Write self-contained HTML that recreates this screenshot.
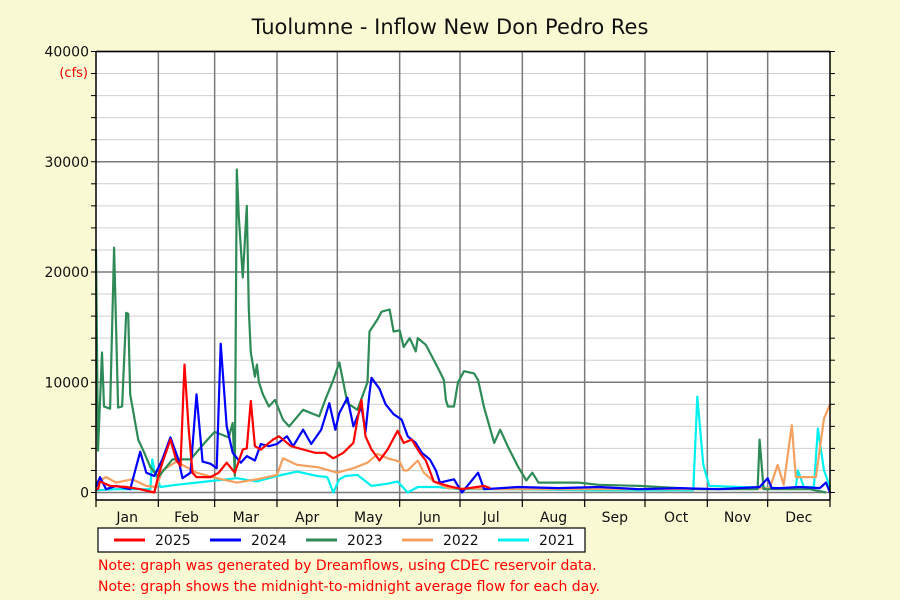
<!DOCTYPE html>
<html><head><meta charset="utf-8"><style>
body{margin:0;background:#f9f9d3;}
svg{display:block;font-family:"DejaVu Sans","Liberation Sans",sans-serif;}
</style></head><body>
<svg id="chart" width="900" height="600" viewBox="0 0 900 600">
<rect x="0" y="0" width="900" height="600" fill="#f9f9d3"/>
<text x="450" y="34" text-anchor="middle" font-size="21" fill="#111">Tuolumne - Inflow New Don Pedro Res</text>
<rect x="96" y="51.5" width="734" height="448.5" fill="#fff"/>
<g id="grid"></g>
<g id="series"></g>
<g id="axes"></g>
<text x="88" y="77" text-anchor="end" font-size="13" fill="#e00">(cfs)</text>
<g>
<rect x="98" y="528" width="487" height="24" fill="#fff" stroke="#000" stroke-width="1.2"/>
<g id="legend"></g>
</g>
<text x="98" y="570" font-size="14" fill="#f00">Note: graph was generated by Dreamflows, using CDEC reservoir data.</text>
<text x="98" y="591" font-size="14" fill="#f00">Note: graph shows the midnight-to-midnight average flow for each day.</text>
</svg>
<script>
const months=["Jan","Feb","Mar","Apr","May","Jun","Jul","Aug","Sep","Oct","Nov","Dec"];
const monthDays=[31,28,31,30,31,30,31,31,30,31,30,31];
const yTicks=[0,10000,20000,30000,40000];
const seriesNames=["2025","2024","2023","2022","2021"];
const seriesColors=["#f00","#00f","#2e8b57","#f4a060","#00f0f0"];
const d2025=[0,1,2,7,15,22,29,31,33,37,40,42,44,46,48,50,57,61,65,69,73,75,77,79,82,88,91,97,103,109,114,118,123,128,130,132,134,137,141,145,150,153,157,161,164,168,175,182,193,196];
const v2025=[300,300,1000,600,500,300,0,1500,2700,4800,2900,2400,11600,6000,1800,1400,1400,1800,2700,1800,3900,4000,8300,4200,3900,4800,5100,4200,3900,3600,3600,3100,3600,4500,6600,8400,5100,3900,2900,3900,5600,4500,4800,3600,2900,1000,600,300,600,400];
const d2024=[0,2,5,10,17,22,25,29,33,37,41,43,47,50,53,57,60,62,65,68,72,75,79,82,86,90,95,98,103,107,112,116,119,121,125,128,132,134,136,137,141,144,148,152,155,159,162,166,169,171,178,182,190,193,210,230,250,270,290,310,330,334,336,340,350,360,363,365];
const v2024=[500,1400,300,600,300,3700,1800,1500,3000,5000,3000,1300,1800,8900,2800,2600,2200,13500,6000,3600,2700,3300,2900,4400,4200,4400,5100,4200,5700,4400,5700,8100,5700,7200,8600,6000,7800,5500,9000,10400,9400,8000,7100,6600,5100,4500,3600,3000,2000,900,1200,0,1800,300,500,400,500,300,400,300,500,1300,400,400,500,400,900,0];
const d2023=[0,1,3,4,7,9,11,13,15,16,17,21,24,27,31,38,47,54,59,66,68,69,70,71,73,75,76,77,79,80,81,83,86,89,93,96,103,111,114,118,121,123,125,130,135,136,140,142,146,148,151,153,156,159,160,164,170,173,174,175,178,180,183,188,190,193,198,201,205,210,214,217,220,240,250,270,280,300,320,329,330,332,340,355,363];
const v2023=[22000,3800,12700,7800,7600,22200,7700,7800,16300,16200,8900,4800,3600,2300,1400,3000,3000,4500,5500,5000,6300,1500,29300,25000,19500,26000,16600,12700,10500,11600,10000,8900,7800,8400,6600,6000,7500,6900,8400,10200,11800,10000,8100,7500,10000,14600,15700,16400,16600,14600,14700,13200,14000,12800,14000,13400,11300,10200,8400,7800,7800,10000,11000,10800,10200,7700,4500,5700,4100,2300,1100,1800,900,900,700,600,500,300,300,300,4800,300,300,300,0];
const d2022=[0,5,10,18,25,30,33,40,50,60,70,80,90,93,100,110,120,128,135,140,145,151,153,155,160,163,168,175,200,250,300,335,339,342,346,348,352,358,362,365];
const v2022=[900,1400,900,1200,600,500,2000,2800,1800,1300,900,1200,1600,3100,2500,2300,1800,2200,2700,3500,3100,2800,2000,2000,2900,1800,1000,400,300,300,300,400,2500,700,6100,1400,1400,1400,6700,8000];
const d2021=[0,10,20,27,28,29,32,40,50,60,70,80,90,100,110,115,118,121,124,130,137,145,150,155,160,170,180,200,250,297,299,302,305,320,340,348,349,352,357,359,362,365];
const v2021=[200,300,300,300,3000,2000,500,700,900,1100,1300,1000,1500,1900,1500,1400,0,1200,1500,1600,600,800,1000,0,500,500,300,300,200,200,8700,2500,600,500,400,400,2000,500,500,5800,2000,500];
const allD=[d2025,d2024,d2023,d2022,d2021], allV=[v2025,v2024,v2023,v2022,v2021];

const NS="http://www.w3.org/2000/svg";
const X0=96,X1=830,Y0=492.5,YTOP=51.5,YMAX=40000,BOTTOM=500;
const xS=d=>X0+d*(X1-X0)/365;
const yS=v=>Y0-v*(Y0-YTOP)/YMAX;
function mk(tag,attrs,parent){const e=document.createElementNS(NS,tag);for(const k in attrs)e.setAttribute(k,attrs[k]);parent.appendChild(e);return e;}
const grid=document.getElementById('grid'),axes=document.getElementById('axes'),ser=document.getElementById('series'),leg=document.getElementById('legend');
for(let v=0;v<=YMAX;v+=2000){
  const major=v%10000===0;
  const l=mk('line',{x1:X0,x2:X1,y1:yS(v),y2:yS(v),stroke:major?'#7a7a7a':'#d0d0d0','stroke-width':major?1.5:1},grid);
  
  
  const t=mk('line',{x1:X0-5,x2:X0,y1:yS(v),y2:yS(v),stroke:'#000','stroke-width':1},axes);
  
  
  const t2=mk('line',{x1:X1,x2:X1+5,y1:yS(v),y2:yS(v),stroke:'#000','stroke-width':1},axes);
  
  
}
yTicks.forEach(v=>{
  const t=mk('text',{x:X0-7,y:yS(v)+5,'text-anchor':'end','font-size':14,fill:'#111'},axes);
  t.textContent=v;
  
  
});
let cum=0;
for(let i=0;i<=12;i++){
  const x=xS(cum);
  if(i>0&&i<12){const g=mk('line',{x1:x,x2:x,y1:YTOP,y2:BOTTOM,stroke:'#7a7a7a','stroke-width':1.5},grid);
    
    }
  const tk=mk('line',{x1:x,x2:x,y1:BOTTOM,y2:BOTTOM+7,stroke:'#000','stroke-width':1.2},axes);
  
  
  if(i<12){const lb=mk('text',{x:xS(cum+monthDays[i]/2),y:522,'text-anchor':'middle','font-size':14,fill:'#111'},axes);
    lb.textContent=months[i];
    
    
    cum+=monthDays[i];}
}
[[X0,YTOP,X0,BOTTOM],[X1,YTOP,X1,BOTTOM],[X0,BOTTOM,X1,BOTTOM],[X0,YTOP,X1,YTOP]].forEach(a=>{
  const l=mk('line',{x1:a[0],y1:a[1],x2:a[2],y2:a[3],stroke:'#000','stroke-width':1.5},axes);
  
  
});
for(let s=4;s>=0;s--){
  const pts=allD[s].map((d,i)=>xS(d).toFixed(1)+','+yS(allV[s][i]).toFixed(1)).join(' ');
  const p=mk('polyline',{points:pts,fill:'none',stroke:seriesColors[s],'stroke-width':2.2,'stroke-linejoin':'round'},ser);
  
  
}
seriesNames.forEach((n,i)=>{
  const x=114+i*96;
  const l=mk('line',{x1:x,x2:x+31,y1:540,y2:540,stroke:seriesColors[i],'stroke-width':3},leg);
  
  
  const t=mk('text',{x:x+41,y:545,'font-size':14,fill:'#111'},leg);
  t.textContent=n;
  
  
});
</script>
</body></html>
